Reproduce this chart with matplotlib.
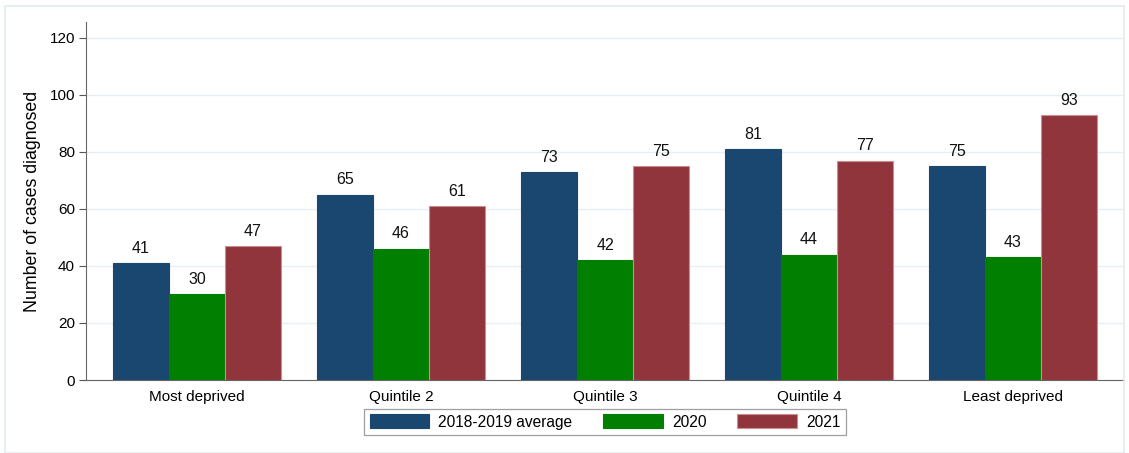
#------------------------------------------------imports---------------------------------------------------------------
import numpy as np
import matplotlib
matplotlib.use("Agg")
import matplotlib.pyplot as plt
from matplotlib.patches import Rectangle

#--------------------------------------------------data----------------------------------------------------------------
groups = ["Most deprived", "Quintile 2", "Quintile 3", "Quintile 4", "Least deprived"]
series = ["2018-2019 average", "2020", "2021"]
avg_2018_2019 = [41, 65, 73, 81, 75]
y2020 = [30, 46, 42, 44, 43]
y2021 = [47, 61, 75, 77, 93]
yticks = [0, 20, 40, 60, 80, 100, 120]

colors = ["#1a476f", "#007f00", "#90353b"]
edges = ["#1a476f", "#007f00", "#c98f93"]

#-------------------------------------------------settings-------------------------------------------------------------
plt.rcParams['font.family'] = ['Liberation Sans', 'DejaVu Sans']

W, H = 1129, 453
fig = plt.figure(figsize=(W / 100, H / 100), dpi=100)

# outer light frame
fig.patches.append(Rectangle((5 / W, 0), 1119 / W, 1 - 6 / H, transform=fig.transFigure,
                             fill=False, edgecolor="#e3ebee", linewidth=1.2))

ax = fig.add_axes([86 / W, 1 - 380 / H, (1124 - 86) / W, (380 - 22) / H])

#--------------------------------------------------plotting------------------------------------------------------------
x = np.arange(len(groups))
bw = 56 / 204
values = [avg_2018_2019, y2020, y2021]
for i, vals in enumerate(values):
    pos = x + (i - 1) * bw
    ax.bar(pos, vals, width=bw, color=colors[i], edgecolor=edges[i], linewidth=0.8,
           label=series[i], zorder=3)
    for xp, v in zip(pos, vals):
        ax.text(xp, v + 2.6, str(v), ha="center", va="bottom", fontsize=11.5, color="#111111")

ax.set_xlim(-0.544, 4.544)
ax.set_ylim(0, 125.6)
ax.set_yticks(yticks)
ax.set_xticks(x)
ax.set_xticklabels(groups, fontsize=11)
ax.tick_params(axis="x", length=0, pad=7)
ax.tick_params(axis="y", length=5, width=0.8, color="#555555", labelsize=11, pad=3)
ax.yaxis.grid(True, color="#e6eff1", linewidth=1, zorder=0)
ax.set_axisbelow(True)
for s in ["top", "right"]:
    ax.spines[s].set_visible(False)
ax.spines["left"].set_color("#666666")
ax.spines["bottom"].set_color("#666666")
ax.set_ylabel("Number of cases diagnosed", fontsize=12.8)
ax.yaxis.set_label_coords((41 - 86) / 1038, 0.5)

leg = ax.legend(loc="upper center", bbox_to_anchor=(0.5, -29 / 358), ncol=3, frameon=True,
                fancybox=False, edgecolor="#888888", fontsize=11.2, handlelength=3.8,
                handleheight=1.0, columnspacing=2.0, borderpad=0.35, handletextpad=0.6,
                borderaxespad=0)
leg.get_frame().set_linewidth(0.9)

#----------------------------------------------------saving------------------------------------------------------------
fig.savefig("out.png", dpi=100)
